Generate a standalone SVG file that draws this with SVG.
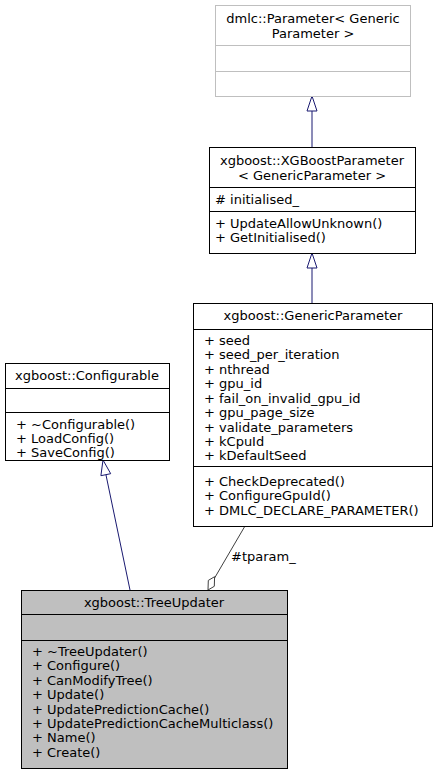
<svg xmlns="http://www.w3.org/2000/svg" width="437" height="775" viewBox="0 0 437 775">
<defs>
<style>
text{font-family:"DejaVu Sans",sans-serif;font-size:13px;fill:#000}
.c{text-anchor:middle}
.box{fill:#fff;stroke:#000;stroke-width:1}
.gbox{fill:#fff;stroke:#bfbfbf;stroke-width:1}
.cur{fill:#bfbfbf;stroke:#000;stroke-width:1}
.inh{stroke:#191970;fill:none;stroke-width:1}
.agg{stroke:#404040;fill:none;stroke-width:1}
</style>
</defs>
<g id="connectors">
<line class="inh" x1="312" y1="147" x2="312" y2="111"/>
<path d="M312,96 L307,111 L317,111 Z" fill="#fff" stroke="#191970"/>
<line class="inh" x1="312" y1="303" x2="312" y2="268"/>
<path d="M312,253 L307,268 L317,268 Z" fill="#fff" stroke="#191970"/>
<line class="inh" x1="130" y1="590" x2="106" y2="475"/>
<path d="M103,460 L100.9,475.7 L110.7,473.7 Z" fill="#fff" stroke="#191970"/>
<line class="agg" x1="245" y1="526" x2="214" y2="579"/>
<path d="M208,590 L208.3,580.4 L214.6,576.7 L214.3,586.3 Z" fill="#fff" stroke="#404040"/>
<text x="231" y="561">#tparam_</text>
</g>
<g id="dmlcParameter">
<rect class="gbox" x="215.5" y="5.5" width="195" height="91"/>
<line x1="215.5" y1="45.5" x2="410.5" y2="45.5" stroke="#bfbfbf"/>
<line x1="215.5" y1="71.5" x2="410.5" y2="71.5" stroke="#bfbfbf"/>
<text class="c" x="313" y="23">dmlc::Parameter&lt; Generic</text>
<text class="c" x="313" y="38">Parameter &gt;</text>
</g>
<g id="XGBoostParameter">
<rect class="box" x="209.5" y="147.5" width="206" height="106"/>
<line x1="209.5" y1="187.5" x2="415.5" y2="187.5" stroke="#000"/>
<line x1="209.5" y1="211.5" x2="415.5" y2="211.5" stroke="#000"/>
<text class="c" x="312" y="165">xgboost::XGBoostParameter</text>
<text class="c" x="312" y="180">&lt; GenericParameter &gt;</text>
<text x="215" y="204"># initialised_</text>
<text x="215" y="228">+ UpdateAllowUnknown()</text>
<text x="215" y="242">+ GetInitialised()</text>
</g>
<g id="GenericParameter">
<rect class="box" x="193.5" y="303.5" width="239" height="223"/>
<line x1="193.5" y1="329.5" x2="432.5" y2="329.5" stroke="#000"/>
<line x1="193.5" y1="466.5" x2="432.5" y2="466.5" stroke="#000"/>
<text class="c" x="313" y="320">xgboost::GenericParameter</text>
<text x="204" y="345">+ seed</text>
<text x="204" y="359">+ seed_per_iteration</text>
<text x="204" y="374">+ nthread</text>
<text x="204" y="388">+ gpu_id</text>
<text x="204" y="403">+ fail_on_invalid_gpu_id</text>
<text x="204" y="417">+ gpu_page_size</text>
<text x="204" y="432">+ validate_parameters</text>
<text x="204" y="446">+ kCpuId</text>
<text x="204" y="460">+ kDefaultSeed</text>
<text x="204" y="486">+ CheckDeprecated()</text>
<text x="204" y="500">+ ConfigureGpuId()</text>
<text x="204" y="515">+ DMLC_DECLARE_PARAMETER()</text>
</g>
<g id="Configurable">
<rect class="box" x="5.5" y="363.5" width="164" height="97"/>
<line x1="5.5" y1="388.5" x2="169.5" y2="388.5" stroke="#000"/>
<line x1="5.5" y1="412.5" x2="169.5" y2="412.5" stroke="#000"/>
<text class="c" x="87" y="380">xgboost::Configurable</text>
<text x="16" y="429">+ ~Configurable()</text>
<text x="16" y="443">+ LoadConfig()</text>
<text x="16" y="457">+ SaveConfig()</text>
</g>
<g id="TreeUpdater">
<rect class="cur" x="21.5" y="590.5" width="266" height="178"/>
<line x1="21.5" y1="614.5" x2="287.5" y2="614.5" stroke="#000"/>
<line x1="21.5" y1="640.5" x2="287.5" y2="640.5" stroke="#000"/>
<text class="c" x="154" y="607">xgboost::TreeUpdater</text>
<text x="32" y="656">+ ~TreeUpdater()</text>
<text x="32" y="670">+ Configure()</text>
<text x="32" y="685">+ CanModifyTree()</text>
<text x="32" y="699">+ Update()</text>
<text x="32" y="714">+ UpdatePredictionCache()</text>
<text x="32" y="728">+ UpdatePredictionCacheMulticlass()</text>
<text x="32" y="742">+ Name()</text>
<text x="32" y="757">+ Create()</text>
</g>
</svg>
